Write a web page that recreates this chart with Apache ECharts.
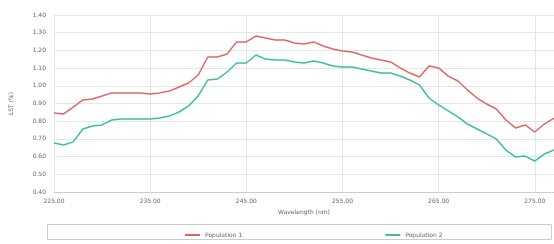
<!DOCTYPE html>
<html>
<head>
<meta charset="utf-8">
<script src="https://cdn.jsdelivr.net/npm/echarts@6/dist/echarts.min.js"></script>
<style>
  html, body { margin: 0; padding: 0; background: #fff; }
  #main { width: 554px; height: 244px; }
</style>
</head>
<body>
<div id="main"></div>
<script>
// wavelength (nm)
var wavelengths = [225, 226, 227, 228, 229, 230, 231, 232, 233, 234, 235, 236, 237, 238, 239, 240,
    241, 242, 243, 244, 245, 246, 247, 248, 249, 250, 251, 252, 253, 254, 255, 256, 257, 258, 259,
    260, 261, 262, 263, 264, 265, 266, 267, 268, 269, 270, 271, 272, 273, 274, 275, 276, 277];

var population1 = [0.846, 0.841, 0.880, 0.920, 0.925, 0.942, 0.960, 0.960, 0.960, 0.960, 0.954, 0.960,
    0.970, 0.993, 1.016, 1.061, 1.163, 1.163, 1.180, 1.248, 1.248, 1.281, 1.270, 1.259, 1.259, 1.242,
    1.236, 1.248, 1.225, 1.208, 1.197, 1.191, 1.174, 1.157, 1.146, 1.135, 1.101, 1.072, 1.050, 1.112,
    1.101, 1.055, 1.027, 0.976, 0.931, 0.897, 0.869, 0.807, 0.762, 0.779, 0.739, 0.784, 0.818];

var population2 = [0.677, 0.666, 0.683, 0.756, 0.773, 0.779, 0.807, 0.812, 0.812, 0.812, 0.812, 0.818,
    0.829, 0.852, 0.886, 0.943, 1.033, 1.038, 1.078, 1.129, 1.129, 1.174, 1.151, 1.146, 1.146, 1.135,
    1.129, 1.140, 1.129, 1.112, 1.106, 1.106, 1.095, 1.084, 1.072, 1.072, 1.055, 1.033, 1.005, 0.931,
    0.892, 0.858, 0.824, 0.784, 0.756, 0.728, 0.700, 0.637, 0.598, 0.603, 0.575, 0.615, 0.637];

var seriesNames = ['Population 1', 'Population 2'];

function pairs(ys) {
    return wavelengths.map(function (x, i) { return [x, ys[i]]; });
}

var myChart = echarts.init(document.getElementById('main'));

var labelStyle = { fontSize: 6, color: '#666', fontFamily: 'DejaVu Sans' };

var option = {
    animation: false,
    grid: { left: 50, right: 0, top: 15, bottom: 52 },
    xAxis: {
        type: 'value',
        min: 225,
        max: 277,
        interval: 10,
        name: 'Wavelength (nm)',
        nameLocation: 'middle',
        nameGap: 17,
        nameTextStyle: labelStyle,
        axisLine: { lineStyle: { color: '#ccc' } },
        axisTick: { show: false },
        axisLabel: Object.assign({ margin: 6, formatter: function (v) { return v.toFixed(2); } }, labelStyle),
        splitLine: { lineStyle: { color: '#e6e6e6' } }
    },
    yAxis: {
        type: 'value',
        min: 0.4,
        max: 1.4,
        interval: 0.1,
        name: 'LST (%)',
        nameLocation: 'middle',
        nameGap: 40,
        nameTextStyle: labelStyle,
        axisLine: { show: false },
        axisTick: { show: false },
        axisLabel: Object.assign({ margin: 8, formatter: function (v) { return v.toFixed(2); } }, labelStyle),
        splitLine: { lineStyle: { color: '#e6e6e6' } }
    },
    legend: {
        left: 180,
        top: 227,
        itemGap: 143,
        itemWidth: 15,
        itemHeight: 2,
        icon: 'rect',
        textStyle: labelStyle,
        data: seriesNames
    },
    graphic: [{
        type: 'rect',
        shape: { x: 47.5, y: 224.5, width: 504, height: 15 },
        style: { fill: 'none', stroke: '#ccc', lineWidth: 1 }
    }],
    series: [
        {
            name: seriesNames[0],
            type: 'line',
            data: pairs(population1),
            showSymbol: false,
            color: '#e06666',
            lineStyle: { width: 1.5 }
        },
        {
            name: seriesNames[1],
            type: 'line',
            data: pairs(population2),
            showSymbol: false,
            color: '#3cbf9c',
            lineStyle: { width: 1.5 }
        }
    ]
};

myChart.setOption(option);
</script>
</body>
</html>
